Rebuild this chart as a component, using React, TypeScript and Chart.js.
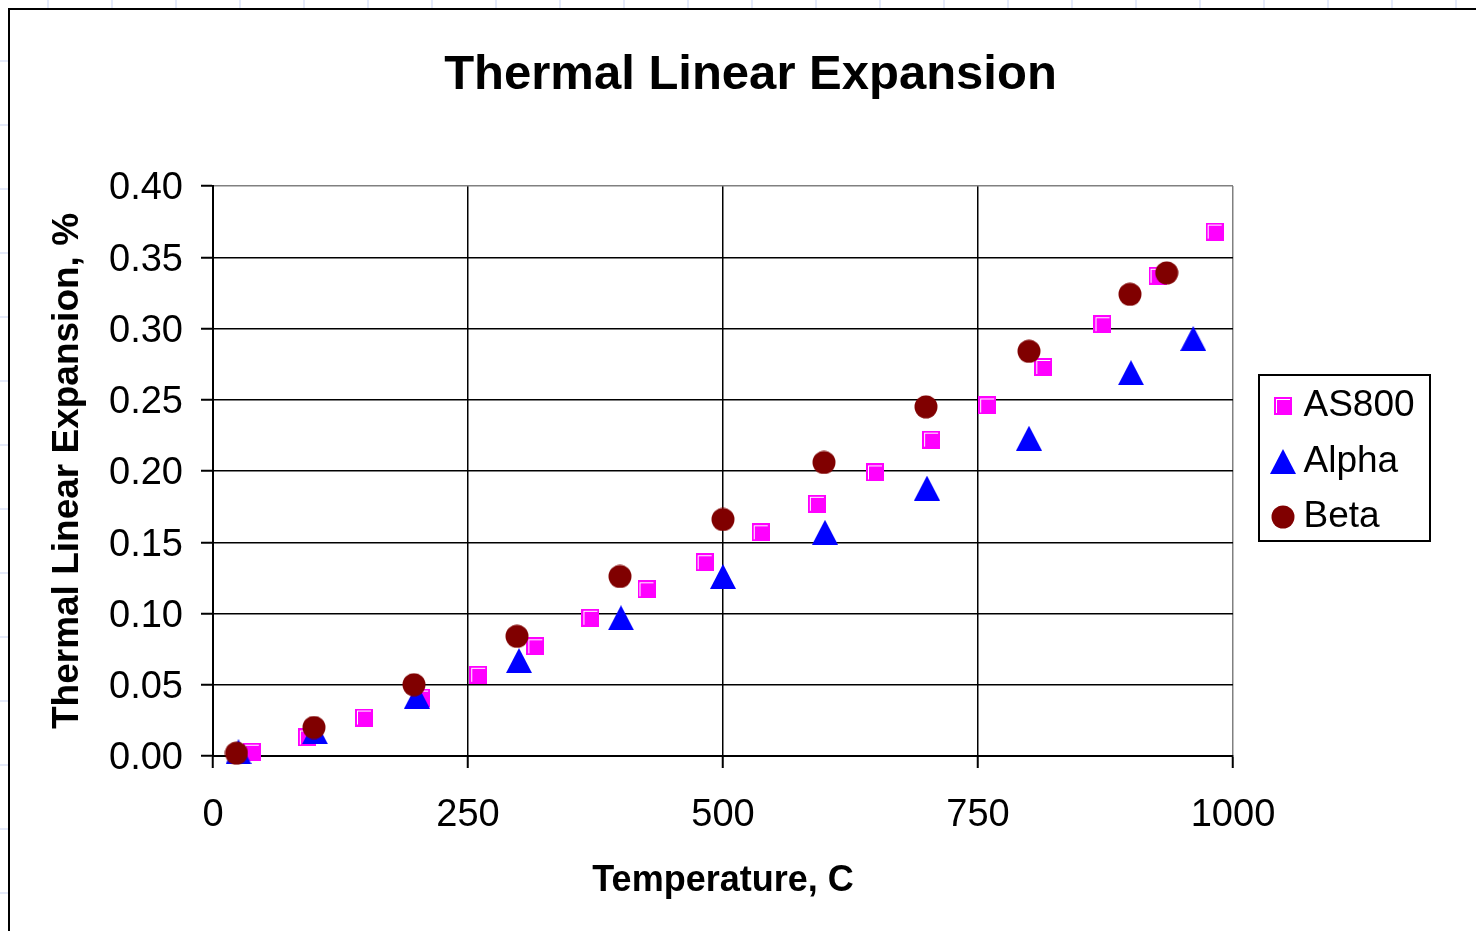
import React, { useEffect, useRef } from "react";
import { Chart, registerables } from "chart.js";

Chart.register(...registerables);

// ---------- data ----------
const AS800_TEMP = [38, 92, 148, 204, 260, 316, 370, 425, 482, 537, 592, 649, 704, 759, 814, 872, 926, 982];
const AS800_EXP = [0.003, 0.013, 0.027, 0.041, 0.057, 0.077, 0.097, 0.117, 0.136, 0.157, 0.177, 0.199, 0.222, 0.246, 0.273, 0.303, 0.337, 0.368];

const ALPHA_TEMP = [25, 100, 200, 300, 400, 500, 600, 700, 800, 900, 961];
const ALPHA_EXP = [0.003, 0.017, 0.042, 0.067, 0.097, 0.126, 0.157, 0.188, 0.223, 0.269, 0.293];

const BETA_TEMP = [23, 99, 197, 298, 399, 500, 599, 699, 800, 899, 935];
const BETA_EXP = [0.002, 0.020, 0.050, 0.084, 0.126, 0.166, 0.206, 0.245, 0.284, 0.324, 0.339];

const SERIES_NAMES = ["AS800", "Alpha", "Beta"];
const X_TICKS = [0, 250, 500, 750, 1000];
const Y_TICKS = [0, 0.05, 0.1, 0.15, 0.2, 0.25, 0.3, 0.35, 0.4];

const TITLE = "Thermal Linear Expansion";
const X_TITLE = "Temperature, C";
const Y_TITLE = "Thermal Linear Expansion, %";

// ---------- styles ----------
const FONT = "'Liberation Sans', Arial, Helvetica, sans-serif";
const CANVAS_W = 1466;
const CANVAS_H = 921;
const LEGEND_FS = 37;
const LEGEND_PAD = 18.5;
const LEGEND_BOXW = 4;
const LEGEND_MARKER_X = 1273;
const LEGEND_MARKER_Y = 396;
const TITLE_CENTER_X = 740.5;

function squareMarker(): HTMLCanvasElement {
  const c = document.createElement("canvas");
  c.width = 18;
  c.height = 18;
  const g = c.getContext("2d")!;
  g.fillStyle = "#FF00FF";
  g.fillRect(0, 0, 18, 18);
  g.fillStyle = "#FFFFFF";
  g.fillRect(2, 2, 14, 1);
  g.fillRect(2, 2, 1, 14);
  return c;
}

function triangleMarker(): HTMLCanvasElement {
  const c = document.createElement("canvas");
  c.width = 26;
  c.height = 25;
  const g = c.getContext("2d")!;
  g.fillStyle = "#0000FF";
  g.beginPath();
  g.moveTo(13, 0);
  g.lineTo(26, 25);
  g.lineTo(0, 25);
  g.closePath();
  g.fill();
  return c;
}

function circleMarker(): HTMLCanvasElement {
  const c = document.createElement("canvas");
  c.width = 24;
  c.height = 24;
  const g = c.getContext("2d")!;
  g.fillStyle = "#800000";
  g.beginPath();
  g.arc(12, 12, 11.5, 0, Math.PI * 2);
  g.fill();
  return c;
}

function pts(xs: number[], ys: number[]) {
  return xs.map((x, i) => ({ x, y: ys[i] }));
}

const layoutPlugin = {
  id: "layoutTweaks",
  afterLayout(chart: any) {
    const t = chart.titleBlock;
    if (t) {
      t.left = 0;
      t.right = 2 * TITLE_CENTER_X;
      t.width = t.right - t.left;
    }
    const lg = chart.legend;
    if (lg) {
      const left = LEGEND_MARKER_X - LEGEND_BOXW / 2 - LEGEND_PAD;
      const top = LEGEND_MARKER_Y - LEGEND_FS / 2 - LEGEND_PAD;
      lg.left = left;
      lg.right = left + lg.width;
      lg.top = top;
      lg.height = 400;
      lg.bottom = top + 400;
    }
  },
  afterDraw(chart: any) {
    const ctx = chart.ctx;
    ctx.save();
    ctx.strokeStyle = "#000";
    ctx.lineWidth = 2;
    ctx.strokeRect(1249, 365, 171, 166);
    ctx.restore();
  },
};

export default function App() {
  const ref = useRef<HTMLCanvasElement | null>(null);

  useEffect(() => {
    if (!ref.current) return;
    const sq = squareMarker();
    const tri = triangleMarker();
    const cir = circleMarker();

    const chart = new Chart(ref.current, {
      type: "scatter",
      data: {
        datasets: [
          {
            label: SERIES_NAMES[0],
            data: pts(AS800_TEMP, AS800_EXP),
            pointStyle: sq as any,
            pointRadius: 9,
            backgroundColor: "#FF00FF",
            borderColor: "#FF00FF",
            order: 3,
            clip: false as any,
          },
          {
            label: SERIES_NAMES[1],
            data: pts(ALPHA_TEMP, ALPHA_EXP),
            pointStyle: tri as any,
            pointRadius: 12,
            backgroundColor: "#0000FF",
            borderColor: "#0000FF",
            order: 2,
            clip: false as any,
          },
          {
            label: SERIES_NAMES[2],
            data: pts(BETA_TEMP, BETA_EXP),
            pointStyle: cir as any,
            pointRadius: 12,
            backgroundColor: "#800000",
            borderColor: "#800000",
            order: 1,
            clip: false as any,
          },
        ],
      },
      options: {
        responsive: false,
        maintainAspectRatio: false,
        animation: false,
        events: [],
        font: { family: FONT } as any,
        layout: { padding: { left: 0, top: 0, right: CANVAS_W - 1223, bottom: 0 } },
        plugins: {
          title: {
            display: true,
            text: TITLE,
            color: "#000",
            font: { family: FONT, size: 49, weight: "bold" },
            padding: { top: 35.6, bottom: 81.6 },
          },
          legend: {
            display: true,
            position: "chartArea",
            align: "start",
            labels: {
              usePointStyle: true,
              boxWidth: LEGEND_BOXW,
              padding: LEGEND_PAD,
              color: "#000",
              font: { family: FONT, size: LEGEND_FS },
              sort: (a: any, b: any) => a.datasetIndex - b.datasetIndex,
            },
          },
          tooltip: { enabled: false },
        },
        scales: {
          x: {
            type: "linear",
            position: "bottom",
            min: X_TICKS[0],
            max: X_TICKS[X_TICKS.length - 1],
            afterBuildTicks: (s: any) => {
              s.ticks = X_TICKS.map((v) => ({ value: v }));
            },
            afterFit: (s: any) => {
              s.height = 175;
            },
            ticks: {
              color: "#000",
              font: { family: FONT, size: 38 },
              padding: 25,
              maxRotation: 0,
              callback: (v: any) => String(v),
            },
            grid: {
              color: (c: any) => (c.tick && c.tick.value === 1000 ? "#808080" : "#000"),
              lineWidth: 1.5,
              tickColor: "#000",
              tickLength: 12,
              tickWidth: 2,
            },
            border: { display: true, color: "#000", width: 2 },
            title: {
              display: true,
              text: X_TITLE,
              color: "#000",
              font: { family: FONT, size: 36, weight: "bold" },
              padding: { top: 0, bottom: 28 },
            },
          },
          y: {
            type: "linear",
            position: "left",
            min: Y_TICKS[0],
            max: Y_TICKS[Y_TICKS.length - 1],
            afterBuildTicks: (s: any) => {
              s.ticks = Y_TICKS.map((v) => ({ value: v }));
            },
            afterFit: (s: any) => {
              s.width = 203;
            },
            ticks: {
              color: "#000",
              font: { family: FONT, size: 38 },
              padding: 18,
              labelOffset: 3,
              callback: (v: any) => Number(v).toFixed(2),
            },
            grid: {
              color: (c: any) => (c.tick && Math.abs(c.tick.value - 0.4) < 1e-9 ? "#808080" : "#000"),
              lineWidth: 1.5,
              tickColor: "#000",
              tickLength: 12,
              tickWidth: 2,
            },
            border: { display: true, color: "#000", width: 2 },
            title: {
              display: true,
              text: Y_TITLE,
              color: "#000",
              font: { family: FONT, size: 37, weight: "bold" },
              padding: { top: 36, bottom: 0 },
            },
          },
        },
      } as any,
      plugins: [layoutPlugin],
    });

    return () => chart.destroy();
  }, []);

  return (
    <>
      <style>{`
        html { overflow: hidden; background: #fff; }
        body { background: #fff; }
      `}</style>
      <div
        style={{
          position: "fixed",
          left: 0,
          top: 0,
          width: "100vw",
          height: 8,
          backgroundImage: "linear-gradient(to right, #e4e9f9 2px, transparent 2px)",
          backgroundSize: "64px 8px",
          backgroundPosition: "47px 0",
        }}
      />
      <div
        style={{
          position: "fixed",
          left: 0,
          top: 0,
          width: 8,
          height: "100vh",
          backgroundImage: "linear-gradient(to bottom, #e4e9f9 2px, transparent 2px)",
          backgroundSize: "8px 64px",
          backgroundPosition: "0 60px",
        }}
      />
      <div
        style={{
          position: "fixed",
          left: 8,
          top: 8,
          width: 1700,
          height: 1100,
          boxSizing: "border-box",
          borderLeft: "2px solid #000",
          borderTop: "2px solid #000",
          background: "#fff",
        }}
      >
        <canvas ref={ref} width={CANVAS_W} height={CANVAS_H} style={{ display: "block" }} />
      </div>
    </>
  );
}
